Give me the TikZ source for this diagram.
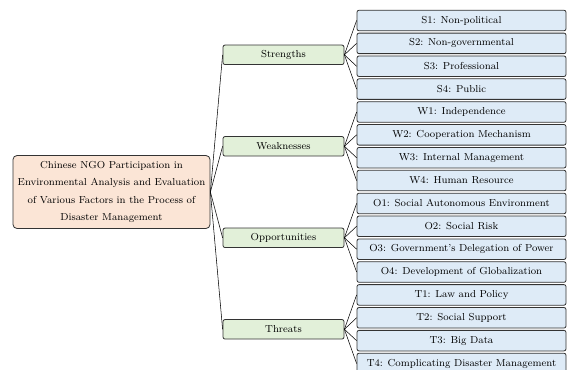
\documentclass[tikz,border=0pt]{standalone}
\begin{document}
\begin{tikzpicture}[x=0.75pt, y=-0.75pt, node distance=17.15pt, every node/.style={font=\fontsize{7.6}{13}\selectfont}]
    \definecolor{rootfill}{HTML}{FBE5D6}
    \definecolor{midfill}{HTML}{E2F0D9}
    \definecolor{leaffill}{HTML}{DEEBF7}
    \tikzstyle{root} = [rectangle, rounded corners=3pt, minimum width=147.75pt, minimum height=54.75pt, align=center, inner sep=0pt, draw=black!80, line width=0.6pt, fill=rootfill]
    \tikzstyle{factor} = [rectangle, rounded corners=1.5pt, minimum width=90.75pt, minimum height=14.6pt, inner sep=0pt, text centered, draw=black!80, line width=0.6pt, fill=midfill]
    \tikzstyle{item} = [rectangle, rounded corners=1.5pt, minimum width=156.75pt, minimum height=15.4pt, inner sep=0pt, text centered, draw=black!80, line width=0.6pt, fill=leaffill]
    \useasboundingbox (0,0) rectangle (567,369);

    % Root
    \node [root] (ngo) at (111.5,192) {Chinese NGO Participation in\\Environmental Analysis and Evaluation\\of Various Factors in the Process of\\Disaster Management};

    % Factor Layer
    \node [factor] (str) at (283.5,54.8) {Strengths};
    \node [factor] (wea) at (283.5,146.3) {Weaknesses};
    \node [factor] (opp) at (283.5,237.8) {Opportunities};
    \node [factor] (thr) at (283.5,329.3) {Threats};

    % Items
    \node [item] (s1) at (461.5,20.5) {S1: Non-political};
    \node [item, below of=s1] (s2) {S2: Non-governmental};
    \node [item, below of=s2] (s3) {S3: Professional};
    \node [item, below of=s3] (s4) {S4: Public};
    \node [item, below of=s4] (w1) {W1: Independence};
    \node [item, below of=w1] (w2) {W2: Cooperation Mechanism};
    \node [item, below of=w2] (w3) {W3: Internal Management};
    \node [item, below of=w3] (w4) {W4: Human Resource};
    \node [item, below of=w4] (o1) {O1: Social Autonomous Environment};
    \node [item, below of=o1] (o2) {O2: Social Risk};
    \node [item, below of=o2] (o3) {O3: Government's Delegation of Power};
    \node [item, below of=o3] (o4) {O4: Development of Globalization};
    \node [item, below of=o4] (t1) {T1: Law and Policy};
    \node [item, below of=t1] (t2) {T2: Social Support};
    \node [item, below of=t2] (t3) {T3: Big Data};
    \node [item, below of=t3] (t4) {T4: Complicating Disaster Management};

    % Connections
    \draw (ngo.east) -- (str.west);
    \draw (ngo.east) -- (wea.west);
    \draw (ngo.east) -- (opp.west);
    \draw (ngo.east) -- (thr.west);

    \draw (str.east) -- (s1.west);
    \draw (str.east) -- (s2.west);
    \draw (str.east) -- (s3.west);
    \draw (str.east) -- (s4.west);
    \draw (wea.east) -- (w1.west);
    \draw (wea.east) -- (w2.west);
    \draw (wea.east) -- (w3.west);
    \draw (wea.east) -- (w4.west);
    \draw (opp.east) -- (o1.west);
    \draw (opp.east) -- (o2.west);
    \draw (opp.east) -- (o3.west);
    \draw (opp.east) -- (o4.west);
    \draw (thr.east) -- (t1.west);
    \draw (thr.east) -- (t2.west);
    \draw (thr.east) -- (t3.west);
    \draw (thr.east) -- (t4.west);
\end{tikzpicture}
\end{document}
